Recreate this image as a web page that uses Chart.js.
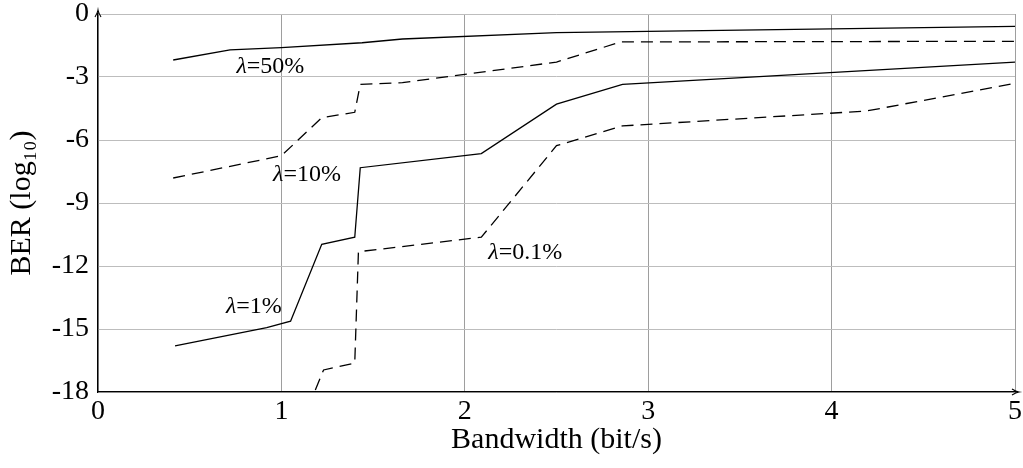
<!DOCTYPE html>
<html><head><meta charset="utf-8">
<script src="https://cdn.jsdelivr.net/npm/chart.js@4/dist/chart.umd.min.js"></script>
<style>html,body{margin:0;padding:0;background:#fff;}</style>
</head><body>
<canvas id="c" width="1023" height="468" style="width:1023px;height:468px;display:block"></canvas>
<script>
// ---- data ----
const xTickValues = [0, 1, 2, 3, 4, 5];
const yTickValues = [0, -3, -6, -9, -12, -15, -18];

const bw50  = [0.41, 0.72, 1.0, 1.44, 1.66, 2.5, 3.0, 5.0];
const ber50 = [-2.19, -1.71, -1.6, -1.37, -1.19, -0.89, -0.83, -0.59];

const bw10  = [0.41, 1.0, 1.22, 1.40, 1.43, 1.66, 2.5, 2.85, 5.0];
const ber10 = [-7.81, -6.75, -4.94, -4.68, -3.35, -3.27, -2.29, -1.33, -1.30];

const bw1   = [0.42, 0.92, 1.05, 1.22, 1.40, 1.43, 2.09, 2.5, 2.86, 5.0];
const ber1  = [-15.80, -14.94, -14.63, -10.97, -10.63, -7.32, -6.65, -4.29, -3.35, -2.29];

const bw01  = [1.185, 1.23, 1.40, 1.42, 2.09, 2.5, 2.86, 4.19, 5.0];
const ber01 = [-17.9, -16.95, -16.62, -11.32, -10.63, -6.27, -5.33, -4.62, -3.30];

const seriesNames = ['λ=50%', 'λ=10%', 'λ=1%', 'λ=0.1%'];
// label anchors (data coordinates)
const labelX = [0.94, 1.14, 0.85, 2.33];
const labelY = [-2.52, -7.67, -13.95, -11.38];

const xTitle = 'Bandwidth (bit/s)';
const yTitle = 'BER (log₁₀)';

// ---- chart ----
const FONT = "'Liberation Serif', 'DejaVu Serif', serif";
Chart.defaults.font.family = FONT;
Chart.defaults.color = '#000';

function pts(xs, ys) { return xs.map((x, i) => ({x: x, y: ys[i]})); }
function ds(label, xs, ys, dashed) {
  return {
    label: label, data: pts(xs, ys), borderColor: '#000', borderWidth: 1.3,
    borderDash: dashed ? [12, 7] : [], pointRadius: 0, tension: 0, fill: false
  };
}

const overlay = {
  id: 'overlay',
  afterDraw(chart) {
    const ctx = chart.ctx, a = chart.chartArea;
    const xs = chart.scales.x, ys = chart.scales.y;
    ctx.save();
    ctx.strokeStyle = '#000'; ctx.lineWidth = 1.1;
    // y axis arrow
    ctx.beginPath();
    ctx.moveTo(a.left, a.top); ctx.lineTo(a.left, a.top - 3); ctx.stroke();
    ctx.beginPath();
    ctx.moveTo(a.left - 3, a.top + 3); ctx.quadraticCurveTo(a.left - 0.5, a.top - 1, a.left, a.top - 4);
    ctx.quadraticCurveTo(a.left + 0.5, a.top - 1, a.left + 3, a.top + 3); ctx.stroke();
    // x axis arrow
    ctx.beginPath();
    ctx.moveTo(a.right, a.bottom); ctx.lineTo(a.right + 3, a.bottom); ctx.stroke();
    ctx.beginPath();
    ctx.moveTo(a.right - 3, a.bottom - 3); ctx.quadraticCurveTo(a.right + 1, a.bottom - 0.5, a.right + 4, a.bottom);
    ctx.quadraticCurveTo(a.right + 1, a.bottom + 0.5, a.right - 3, a.bottom + 3); ctx.stroke();
    // series labels (lambda in italic, rest upright)
    ctx.fillStyle = '#000';
    ctx.textBaseline = 'middle'; ctx.textAlign = 'left';
    const fItal = "italic 24px " + FONT, fUp = "24px " + FONT;
    seriesNames.forEach((t, i) => {
      const head = t.charAt(0), rest = t.slice(1);
      ctx.font = fItal; const w1 = ctx.measureText(head).width;
      ctx.font = fUp; const w2 = ctx.measureText(rest).width;
      const cx = xs.getPixelForValue(labelX[i]), cy = ys.getPixelForValue(labelY[i]);
      const x0 = cx - (w1 + w2) / 2;
      ctx.font = fItal; ctx.fillText(head, x0, cy);
      ctx.font = fUp; ctx.fillText(rest, x0 + w1, cy);
    });
    ctx.restore();
  }
};

new Chart(document.getElementById('c'), {
  type: 'line',
  data: {
    datasets: [
      ds(seriesNames[0], bw50, ber50, false),
      ds(seriesNames[1], bw10, ber10, true),
      ds(seriesNames[2], bw1, ber1, false),
      ds(seriesNames[3], bw01, ber01, true)
    ]
  },
  options: {
    responsive: false, animation: false, devicePixelRatio: 1,
    layout: { padding: { top: 14, right: 8, left: 0, bottom: 0 } },
    plugins: { legend: { display: false }, tooltip: { enabled: false } },
    scales: {
      x: {
        type: 'linear', min: 0, max: 5,
        afterBuildTicks: s => { s.ticks = xTickValues.map(v => ({value: v})); },
        afterFit: s => { s.height = 76; s.paddingLeft = 0; s.paddingRight = 0; },
        grid: { color: '#9e9e9e', lineWidth: 1, drawTicks: false },
        border: { color: '#000', width: 1.3 },
        ticks: { font: { size: 28 }, padding: 3, maxRotation: 0, autoSkip: false },
        title: { display: true, text: xTitle, font: { size: 30 }, padding: { top: 0, bottom: 10 } }
      },
      y: {
        type: 'linear', min: -18, max: 0,
        afterBuildTicks: s => { s.ticks = yTickValues.map(v => ({value: v})); },
        afterFit: s => { s.width = 98; s.paddingTop = 0; s.paddingBottom = 0; },
        grid: { color: '#bdbdbd', lineWidth: 1, drawTicks: false },
        border: { color: '#000', width: 1.3 },
        ticks: { font: { size: 28 }, padding: 9, autoSkip: false },
        title: { display: true, text: yTitle, font: { size: 30 }, padding: { top: 4, bottom: 0 } }
      }
    }
  },
  plugins: [overlay]
});
</script>
</body></html>
